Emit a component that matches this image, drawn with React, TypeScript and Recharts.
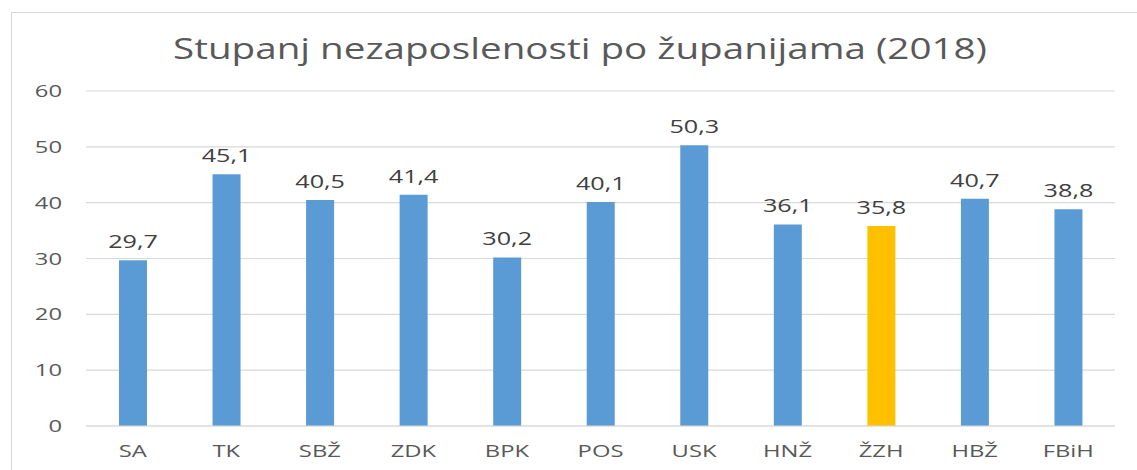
import { BarChart, Bar, XAxis, YAxis, CartesianGrid, Cell, LabelList } from "recharts";

const CATEGORIES = ["SA", "TK", "SBŽ", "ZDK", "BPK", "POS", "USK", "HNŽ", "ŽZH", "HBŽ", "FBiH"];
const VALUES = [29.7, 45.1, 40.5, 41.4, 30.2, 40.1, 50.3, 36.1, 35.8, 40.7, 38.8];
const HIGHLIGHT = "ŽZH";
const Y_TICKS = [0, 10, 20, 30, 40, 50, 60];
const TITLE = "Stupanj nezaposlenosti po županijama (2018)";

const BLUE = "#5B9BD5";
const GOLD = "#FFC000";
const FONT = "'Open Sans', sans-serif";
const STRETCH = 1.4; // the source picture is stretched sideways

const data = CATEGORIES.map((name, i) => ({ name, value: VALUES[i] }));

// y tick, right-aligned and stretched
const YTick = ({ x, y, payload }: any) => (
  <g transform={`translate(${x},${y}) scale(${STRETCH},1)`}>
    <text x={0} y={0} dy="0.36em" textAnchor="end" fill="#595959" fontSize={17} fontFamily={FONT}>
      {payload.value}
    </text>
  </g>
);

const XTick = ({ x, y, payload }: any) => (
  <g transform={`translate(${x},${y + 31}) scale(${STRETCH},1)`}>
    <text x={0} y={0} textAnchor="middle" fill="#595959" fontSize={17} fontFamily={FONT}>
      {payload.value}
    </text>
  </g>
);

const ValueLabel = ({ x, y, width, value }: any) => (
  <g transform={`translate(${x + width / 2},${y - 12}) scale(${STRETCH},1)`}>
    <text x={0} y={0} textAnchor="middle" fill="#404040" fontSize={18} fontFamily={FONT}>
      {Number(value).toFixed(1).replace(".", ",")}
    </text>
  </g>
);

export default function App() {
  return (
    <div style={{ position: "absolute", left: 0, top: 0, width: 1137, height: 470, overflow: "hidden", background: "#fff" }}>
      {/* chart frame */}
      <div
        style={{
          position: "absolute",
          left: 11,
          top: 12,
          width: 1200,
          height: 520,
          border: "1.5px solid #d9d9d9",
          boxSizing: "border-box",
        }}
      />
      <svg width={1137} height={80} style={{ position: "absolute", left: 0, top: 0 }}>
        <text
          x={580}
          y={59}
          textAnchor="middle"
          textLength={814}
          lengthAdjust="spacingAndGlyphs"
          fill="#595959"
          fontSize={29}
          fontFamily={FONT}
        >
          {TITLE}
        </text>
      </svg>
      <div style={{ position: "absolute", left: 0, top: 0 }}>
        <BarChart
          width={1137}
          height={470}
          data={data}
          margin={{ top: 91, right: 22, bottom: 0, left: 0 }}
          barCategoryGap={0}
        >
          <CartesianGrid vertical={false} stroke="#d9d9d9" strokeWidth={1.2} />
          <XAxis
            dataKey="name"
            height={44}
            tickLine={false}
            axisLine={{ stroke: "#d9d9d9", strokeWidth: 1.2 }}
            tickSize={0}
            tickMargin={0}
            tick={<XTick />}
            interval={0}
          />
          <YAxis
            width={86}
            domain={[0, 60]}
            ticks={Y_TICKS}
            tickLine={false}
            axisLine={false}
            tickSize={0}
            tickMargin={24}
            tick={<YTick />}
          />
          <Bar dataKey="value" barSize={28} isAnimationActive={false}>
            {data.map((d) => (
              <Cell key={d.name} fill={d.name === HIGHLIGHT ? GOLD : BLUE} />
            ))}
            <LabelList dataKey="value" content={<ValueLabel />} />
          </Bar>
        </BarChart>
      </div>
    </div>
  );
}
